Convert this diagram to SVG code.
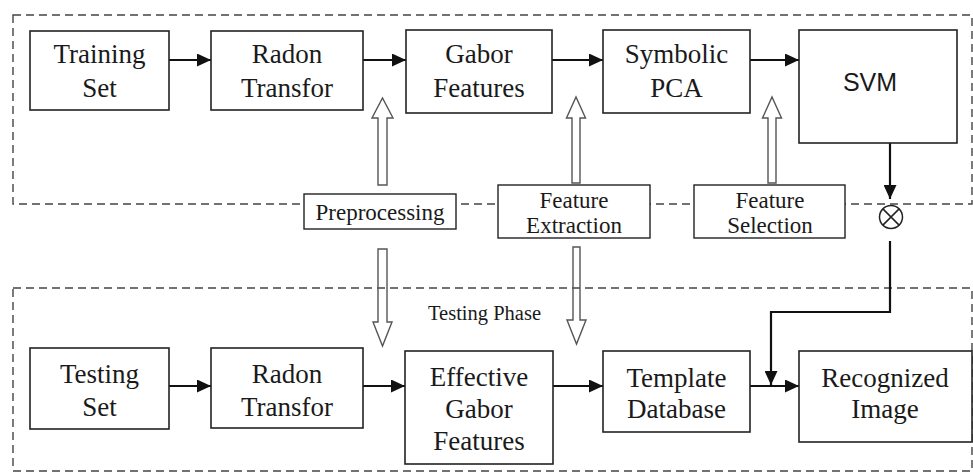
<svg xmlns="http://www.w3.org/2000/svg" width="973" height="474" viewBox="0 0 973 474">
  <defs>
    <marker id="ah" markerUnits="userSpaceOnUse" markerWidth="14" markerHeight="13" refX="14" refY="6.5" orient="auto">
      <path d="M0,0 L14,6.5 L0,13 z" fill="#111"/>
    </marker>
    <style>
      .phase { fill: none; stroke: #444; stroke-width: 1.4; stroke-dasharray: 8 5; }
      .box { fill: #fff; stroke: #222; stroke-width: 1.6; }
      .lbl { fill: #fff; stroke: #222; stroke-width: 1.4; }
      .t { font-size: 27px; fill: #1a1a1a; text-anchor: middle; }
      .s { font-size: 23px; fill: #1a1a1a; text-anchor: middle; }
      .sans { font-size: 25px; fill: #1a1a1a; text-anchor: middle; }
      .ph { font-size: 20.5px; fill: #1a1a1a; }
      .flow { fill: none; stroke: #111; stroke-width: 2.2; }
      .hollow { fill: none; stroke: #555; stroke-width: 1.4; stroke-linejoin: miter; }
    </style>
  </defs>

  <!-- training and testing phase frames -->
  <rect class="phase" x="13" y="15" width="959" height="189"/>
  <rect class="phase" x="13" y="288" width="959" height="183"/>
  <text class="ph" x="428" y="320" font-family="Liberation Serif, serif">Testing Phase</text>

  <!-- connectors -->
  <g id="connectors">
    <line class="flow" x1="169" y1="60" x2="211" y2="60" marker-end="url(#ah)"/>
    <line class="flow" x1="363" y1="60" x2="406" y2="60" marker-end="url(#ah)"/>
    <line class="flow" x1="552" y1="60" x2="603" y2="60" marker-end="url(#ah)"/>
    <line class="flow" x1="750" y1="60" x2="799" y2="60" marker-end="url(#ah)"/>
    <line class="flow" x1="890" y1="143" x2="890" y2="199" marker-end="url(#ah)"/>

    <line class="flow" x1="169" y1="386" x2="211" y2="386" marker-end="url(#ah)"/>
    <line class="flow" x1="363" y1="386" x2="405" y2="386" marker-end="url(#ah)"/>
    <line class="flow" x1="553" y1="386" x2="603" y2="386" marker-end="url(#ah)"/>
    <line class="flow" x1="750" y1="386" x2="799" y2="386" marker-end="url(#ah)"/>
    <polyline class="flow" points="890,241 890,312 771,312 771,385" marker-end="url(#ah)"/>

    <!-- hollow block arrows from the stage labels -->
    <path class="hollow" d="M378,185 L378,118 L372,118 L382.5,98 L393,118 L387,118 L387,185 Z"/>
    <path class="hollow" d="M572,183 L572,118 L566.5,118 L576,97 L585.5,118 L580,118 L580,183 Z"/>
    <path class="hollow" d="M768,183 L768,118 L762.5,118 L772,97 L781.5,118 L776,118 L776,183 Z"/>
    <path class="hollow" d="M378,249 L378,322 L373,322 L382.5,346 L392,322 L387,322 L387,249 Z"/>
    <path class="hollow" d="M573,247 L573,320 L567,320 L576.5,344 L586,320 L580,320 L580,247 Z"/>
  </g>

  <g font-family="Liberation Serif, Times New Roman, serif">
  <!-- training row -->
  <g id="training-set">
    <rect class="box" x="30" y="31" width="139" height="79"/>
    <text class="t" x="99.5" y="63">Training</text>
    <text class="t" x="99.5" y="97">Set</text>
  </g>
  <g id="radon-train">
    <rect class="box" x="211" y="31" width="152" height="79"/>
    <text class="t" x="287" y="63">Radon</text>
    <text class="t" x="287" y="97">Transfor</text>
  </g>
  <g id="gabor-features">
    <rect class="box" x="406" y="30" width="146" height="83"/>
    <text class="t" x="479" y="63">Gabor</text>
    <text class="t" x="479" y="97">Features</text>
  </g>
  <g id="symbolic-pca">
    <rect class="box" x="603" y="30" width="147" height="83"/>
    <text class="t" x="676.5" y="63">Symbolic</text>
    <text class="t" x="676.5" y="97">PCA</text>
  </g>
  <g id="svm">
    <rect class="box" x="799" y="30" width="158" height="113"/>
    <text class="sans" x="870" y="91" font-family="Liberation Sans, Arial, sans-serif">SVM</text>
  </g>

  <!-- stage labels on the phase boundary -->
  <g id="preprocessing">
    <rect class="lbl" x="304" y="194" width="152" height="35"/>
    <text class="s" x="380" y="220">Preprocessing</text>
  </g>
  <g id="feature-extraction">
    <rect class="lbl" x="498" y="185" width="152" height="53"/>
    <text class="s" x="574" y="208">Feature</text>
    <text class="s" x="574" y="233">Extraction</text>
  </g>
  <g id="feature-selection">
    <rect class="lbl" x="694" y="185" width="151" height="53"/>
    <text class="s" x="770" y="208">Feature</text>
    <text class="s" x="770" y="233">Selection</text>
  </g>
  <g id="combine">
    <circle cx="891" cy="217" r="11.5" fill="#fff" stroke="#222" stroke-width="1.5"/>
    <path d="M882.9,208.9 L899.1,225.1 M899.1,208.9 L882.9,225.1" stroke="#222" stroke-width="1.5"/>
  </g>

  <!-- testing row -->
  <g id="testing-set">
    <rect class="box" x="30" y="348" width="139" height="81"/>
    <text class="t" x="99.5" y="383">Testing</text>
    <text class="t" x="99.5" y="416">Set</text>
  </g>
  <g id="radon-test">
    <rect class="box" x="211" y="348" width="152" height="80"/>
    <text class="t" x="287" y="383">Radon</text>
    <text class="t" x="287" y="416">Transfor</text>
  </g>
  <g id="effective-gabor">
    <rect class="box" x="405" y="351" width="148" height="113"/>
    <text class="t" x="479" y="386">Effective</text>
    <text class="t" x="479" y="418">Gabor</text>
    <text class="t" x="479" y="450">Features</text>
  </g>
  <g id="template-database">
    <rect class="box" x="603" y="351" width="147" height="81"/>
    <text class="t" x="676.5" y="387">Template</text>
    <text class="t" x="676.5" y="418">Database</text>
  </g>
  <g id="recognized-image">
    <rect class="box" x="799" y="351" width="173" height="91"/>
    <text class="t" x="885" y="387">Recognized</text>
    <text class="t" x="885" y="418">Image</text>
  </g>
  </g>
</svg>
